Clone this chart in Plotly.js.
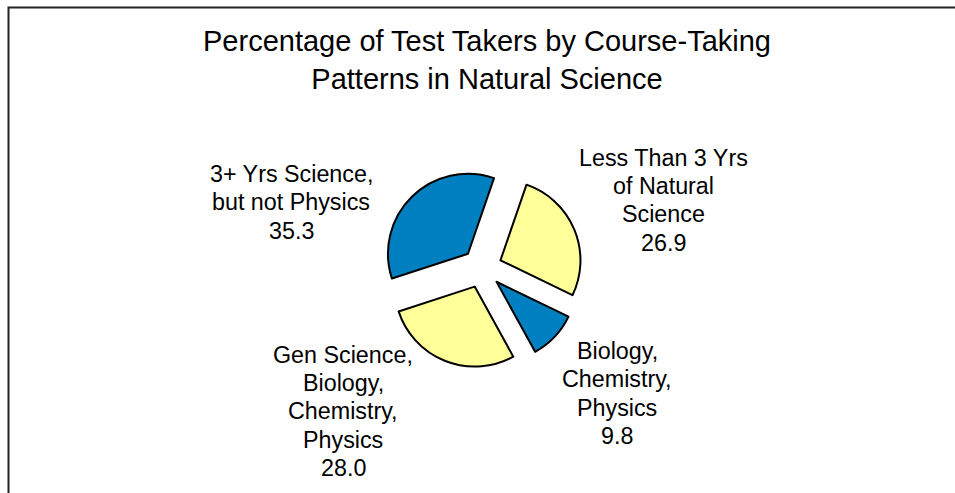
<!DOCTYPE html>
<html>
<head>
<meta charset="utf-8">
<script src="https://cdn.plot.ly/plotly-3.0.1.min.js"></script>
<style>
html, body { margin: 0; padding: 0; background: #ffffff; }
#chart { width: 955px; height: 493px; }
</style>
</head>
<body>
<div id="chart"></div>
<script>
// Data
var categories = [
  "Less Than 3 Yrs\nof Natural\nScience",
  "Biology,\nChemistry,\nPhysics",
  "Gen Science,\nBiology,\nChemistry,\nPhysics",
  "3+ Yrs Science,\nbut not Physics"
];
var percentages = [26.9, 9.8, 28.0, 35.3];
var sliceColors = ["#FFFF99", "#0080C0", "#FFFF99", "#0080C0"];
var titleText = "Percentage of Test Takers by Course-Taking<br>Patterns in Natural Science";

// Layout helpers (pixel -> paper, margins are zero so paper == page)
var W = 955, H = 493;
function px(x) { return x / W; }
function py(y) { return 1 - y / H; }

// Label block placements (center x, first-line center y), per category
var labelPos = [
  {x: 663, y: 157.5},
  {x: 617, y: 351},
  {x: 343, y: 354.5},
  {x: 291, y: 174}
];
var lineStep = 28.4;
var fontFamily = "Arial, 'Liberation Sans', Helvetica, sans-serif";

var annotations = [];
categories.forEach(function (cat, i) {
  var lines = cat.split("\n").concat([percentages[i].toFixed(1)]);
  lines.forEach(function (ln, j) {
    annotations.push({
      xref: "paper", yref: "paper",
      x: px(labelPos[i].x), y: py(labelPos[i].y + j * lineStep),
      xanchor: "center", yanchor: "middle",
      text: ln, showarrow: false,
      font: {family: fontFamily, size: 23.3, color: "#000000"}
    });
  });
});

var trace = {
  type: "pie",
  values: percentages,
  labels: categories.map(function (c) { return c.replace(/\n/g, " "); }),
  marker: {colors: sliceColors, line: {color: "#000000", width: 2}},
  pull: [0.25, 0.25, 0.25, 0.25],
  sort: false,
  direction: "clockwise",
  rotation: 19,
  textinfo: "none",
  hoverinfo: "label+value",
  showlegend: false,
  domain: {x: [px(382), px(582)], y: [py(368), py(168)]}
};

var layout = {
  width: W, height: H,
  margin: {l: 0, r: 0, t: 0, b: 0},
  paper_bgcolor: "#ffffff",
  plot_bgcolor: "#ffffff",
  showlegend: false,
  title: {
    text: titleText,
    font: {family: fontFamily, size: 29, color: "#000000"},
    x: px(487), xanchor: "center",
    y: py(51), yanchor: "middle",
    xref: "paper", yref: "paper"
  },
  annotations: annotations,
  shapes: [{
    type: "rect", xref: "paper", yref: "paper",
    x0: px(8.5), y0: py(7.5), x1: px(980), y1: py(520),
    line: {color: "#222222", width: 2}, fillcolor: "rgba(0,0,0,0)",
    layer: "below"
  }]
};

Plotly.newPlot("chart", [trace], layout, {displayModeBar: false, staticPlot: true});
</script>
</body>
</html>
